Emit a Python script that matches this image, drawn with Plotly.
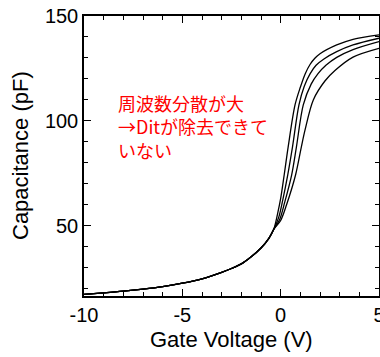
import plotly.graph_objects as go

# Shared (low-voltage) part of the C-V curves
v_common = [-10, -9, -8, -7, -6, -5, -4, -3, -2.5, -2, -1.5, -1, -0.6, -0.35]
c_common = [17.3, 18.0, 18.8, 19.8, 21.0, 22.6, 24.7, 27.8, 29.6, 31.8, 35.2, 39.4, 44.0, 48.3]

# Diverging (accumulation) part for each frequency
v_f1 = [-0.15, 0.0, 0.18, 0.38, 0.73, 1.0, 1.25, 1.5, 1.75, 2.0, 2.85, 3.68, 5.0]
c_f1 = [56.0, 63.0, 74.3, 87.5, 107.6, 116.0, 122.5, 127.0, 130.0, 132.0, 136.2, 138.9, 141.0]

v_f2 = [-0.1, 0.1, 0.36, 0.6, 0.93, 1.2, 1.5, 1.8, 2.2, 2.85, 3.68, 5.0]
c_f2 = [54.0, 62.0, 74.3, 87.5, 107.6, 116.5, 122.5, 126.5, 129.5, 133.0, 136.2, 139.4]

v_f3 = [-0.05, 0.2, 0.56, 0.8, 1.15, 1.55, 1.9, 2.3, 2.85, 3.68, 5.0]
c_f3 = [53.0, 61.0, 74.3, 87.5, 107.6, 117.5, 122.5, 126.5, 130.3, 134.0, 137.8]

v_f4 = [0.0, 0.3, 0.76, 1.05, 1.24, 1.66, 2.25, 2.76, 3.68, 5.0]
c_f4 = [52.5, 60.0, 74.3, 87.5, 95.7, 110.0, 119.0, 124.0, 130.4, 134.6]

x_ticks = [-10, -5, 0, 5]
y_ticks = [50, 100, 150]
note = "周波数分散が大<br>→Ditが除去できて<br>いない"
x_title = "Gate Voltage (V)"
y_title = "Capacitance (pF)"

fig = go.Figure()
for vv, cc in [(v_f1, c_f1), (v_f2, c_f2), (v_f3, c_f3), (v_f4, c_f4)]:
    fig.add_trace(go.Scatter(
        x=v_common + vv, y=c_common + cc, mode="lines",
        line=dict(color="black", width=1.3, shape="spline", smoothing=0.9),
        showlegend=False, hoverinfo="skip"))

fam = "Liberation Sans, Arial, sans-serif"
axis_font = dict(family=fam, size=20, color="black")
fig.update_layout(
    width=380, height=357,
    margin=dict(l=84, r=1, t=16, b=61, autoexpand=False),
    paper_bgcolor="white", plot_bgcolor="white",
    showlegend=False,
    font=axis_font,
)
common_axis = dict(
    ticks="inside", ticklen=7, tickwidth=1.3, tickcolor="black",
    showline=True, linecolor="black", linewidth=1.5, mirror="ticks",
    showgrid=False, zeroline=False, automargin=False, tickfont=axis_font,
    ticklabeloverflow="allow",
)
fig.update_xaxes(
    range=[-10, 5], tickvals=x_ticks, ticktext=[str(t) for t in x_ticks],
    minor=dict(dtick=1, ticks="inside", ticklen=4, tickwidth=1.1, tickcolor="black"),
    **common_axis,
)
fig.update_yaxes(
    range=[16.5, 150], tickvals=y_ticks, ticktext=[str(t) for t in y_ticks],
    minor=dict(tickvals=[20, 30, 40, 60, 70, 80, 90, 110, 120, 130, 140], ticks="inside", ticklen=4, tickwidth=1.1, tickcolor="black"),
    **common_axis,
)
title_font = dict(family=fam, size=22, color="black")
fig.add_annotation(text=x_title, xref="paper", yref="paper", x=0.5, y=(296 - 339) / 280,
                   xanchor="center", yanchor="middle", showarrow=False, font=title_font)
fig.add_annotation(text=y_title, xref="paper", yref="paper", x=(20 - 84) / 295, y=0.5,
                   xanchor="center", yanchor="middle", textangle=-90, showarrow=False, font=title_font)
fig.add_annotation(
    text=note, xref="paper", yref="paper",
    x=(116 - 84) / 295, y=(296 - 88) / 280, xanchor="left", yanchor="top",
    showarrow=False, align="left",
    font=dict(family="Noto Sans CJK JP", size=18, color="#ff0000"),
)
fig.write_html(
    "out.html",
    config={"displayModeBar": False},
    post_script="document.body.style.margin='0';document.body.style.overflow='hidden';",
)
